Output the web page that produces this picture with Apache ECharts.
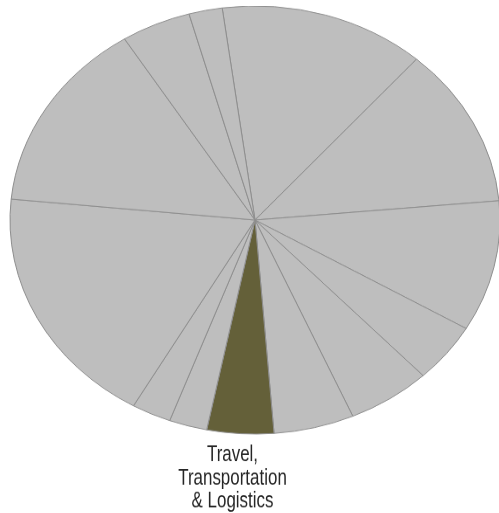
<!DOCTYPE html>
<html>
<head>
<meta charset="utf-8">
<script src="https://cdn.jsdelivr.net/npm/echarts@6/dist/echarts.min.js"></script>
<style>
  html, body { margin: 0; padding: 0; background: #fff; }
  #wrap { position: relative; width: 499px; height: 513px; overflow: hidden; }
  /* The pie is drawn round and squeezed vertically into an ellipse */
  #chart { position: absolute; left: 0; top: 6px; width: 499px; height: 580px;
           transform-origin: 0 0; transform: scaleY(0.8735); }
</style>
</head>
<body>
<div id="wrap"><div id="chart"></div></div>
<script>
// Industry shares (percent), clockwise from the top
const industries = [
  'Financial Services', 'Healthcare', 'Manufacturing', 'Energy & Utilities',
  'Retail', 'Media', 'Travel, Transportation & Logistics', 'Education',
  'Government', 'Technology', 'Telecommunications', 'Insurance', 'Other'
];
const shares = [13.6, 12.1, 9.9, 4.5, 5.5, 5.3, 4.4, 2.5, 2.6, 18.3, 14.5, 4.6, 2.2];
const highlighted = 'Travel, Transportation & Logistics';
const labelLines = ['Travel,', 'Transportation', '& Logistics'];

const SQUEEZE = 0.8735;
const GREY = '#bebebe';
const OLIVE = '#646039';

const chart = echarts.init(document.getElementById('chart'), null, { renderer: 'canvas' });

chart.setOption({
  animation: false,
  series: [{
    type: 'pie',
    center: [255, 245],
    radius: [0, 245],
    startAngle: 97.7,
    clockwise: true,
    silent: true,
    label: { show: false },
    labelLine: { show: false },
    itemStyle: { borderColor: '#8e8e8e', borderWidth: 1 },
    data: industries.map((name, i) => ({
      name: name,
      value: shares[i],
      itemStyle: { color: name === highlighted ? OLIVE : GREY }
    }))
  }],
  graphic: [{
    type: 'text',
    x: 232.5,
    y: (443 - 6) / SQUEEZE,
    scaleX: 0.77,
    scaleY: 1 / SQUEEZE,
    silent: true,
    style: {
      text: labelLines.join('\n'),
      fill: '#262626',
      font: '22px "Liberation Sans", Arial, sans-serif',
      lineHeight: 23.5,
      textAlign: 'center',
      textVerticalAlign: 'top'
    }
  }]
});
</script>
</body>
</html>
